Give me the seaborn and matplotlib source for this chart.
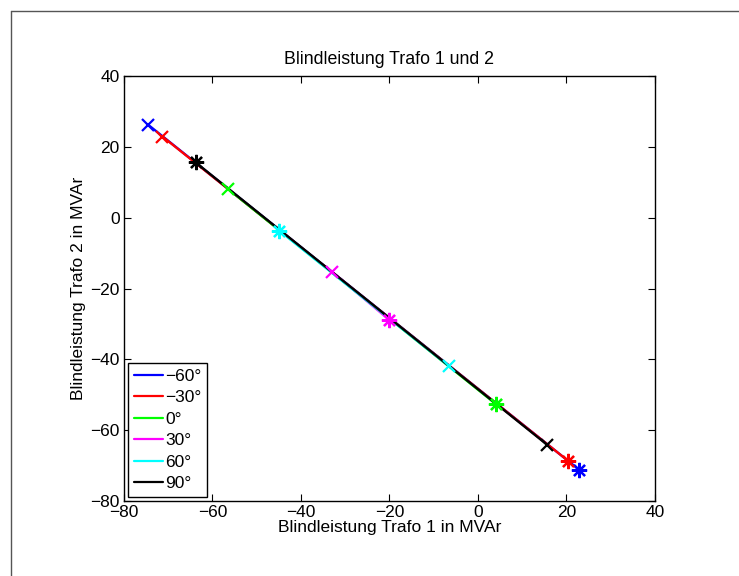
import matplotlib
matplotlib.use("Agg")
import matplotlib.pyplot as plt
from matplotlib.lines import Line2D
import seaborn as sns
import pandas as pd

# Phase angles and the two operating points of each sweep
labels = ["\u221260\u00b0", "\u221230\u00b0", "0\u00b0", "30\u00b0", "60\u00b0", "90\u00b0"]
colors = ["#0000ff", "#ff0000", "#00ff00", "#ff00ff", "#00ffff", "#000000"]

# point marked with 'x'
cross_x = [-74.5, -71.3, -56.4, -32.9, -6.6, 15.7]
cross_y = [26.2, 22.9, 8.0, -15.4, -41.9, -64.2]
# point marked with '*'
star_x = [22.9, 20.4, 4.1, -20.0, -44.9, -63.8]
star_y = [-71.2, -68.7, -52.7, -28.9, -3.7, 15.6]

x_ticks = [-80, -60, -40, -20, 0, 20, 40]
y_ticks = [-80, -60, -40, -20, 0, 20, 40]

rows = []
for i, lab in enumerate(labels):
    rows.append({"Winkel": lab, "order": 0, "Q1": cross_x[i], "Q2": cross_y[i]})
    rows.append({"Winkel": lab, "order": 1, "Q1": star_x[i], "Q2": star_y[i]})
df = pd.DataFrame(rows)

sns.set_theme(style="ticks")
plt.rcParams["font.family"] = ["Liberation Sans", "DejaVu Sans"]
plt.rcParams.update({
    "xtick.direction": "in", "ytick.direction": "in",
    "xtick.top": True, "ytick.right": True,
    "axes.linewidth": 1.0, "axes.edgecolor": "black",
    "xtick.color": "black", "ytick.color": "black",
    "text.color": "black", "axes.labelcolor": "black",
})

fig = plt.figure(figsize=(7.39, 5.76), dpi=100)
ax = fig.add_axes([0.1678, 0.1302, 0.7185, 0.7378])

palette = dict(zip(labels, colors))
sns.lineplot(data=df, x="Q1", y="Q2", hue="Winkel", hue_order=labels,
             palette=palette, units="Winkel", estimator=None, sort=False,
             linewidth=1.7, ax=ax, legend=False)

for i, lab in enumerate(labels):
    ax.plot([cross_x[i]], [cross_y[i]], linestyle="none", marker="x",
            markersize=9, markeredgewidth=1.6, color=colors[i], zorder=5)
    ax.plot([star_x[i]], [star_y[i]], linestyle="none", marker=(8, 2, 0),
            markersize=11, markeredgewidth=1.6, color=colors[i], zorder=5)

ax.set_xlim(-80, 40)
ax.set_ylim(-80, 40)
ax.set_xticks(x_ticks)
ax.set_yticks(y_ticks)
ax.set_xticklabels([str(v).replace("-", "\u2212") for v in x_ticks])
ax.set_yticklabels([str(v).replace("-", "\u2212") for v in y_ticks])
ax.tick_params(axis="both", which="major", labelsize=12.5, length=5, width=0.8, pad=3)

ax.set_xlabel("Blindleistung Trafo 1 in MVAr", fontsize=12.5, labelpad=0)
ax.set_ylabel("Blindleistung Trafo 2 in MVAr", fontsize=12.5, labelpad=3)
ax.set_title("Blindleistung Trafo 1 und 2", fontsize=12.8, pad=9)

handles = [Line2D([0], [0], color=c, linewidth=1.6) for c in colors]
leg = ax.legend(handles, labels, loc="lower left", fontsize=12.5,
                frameon=True, fancybox=False, framealpha=1, edgecolor="black",
                borderaxespad=0.25, handlelength=1.65, handletextpad=0.15,
                labelspacing=0.36, borderpad=0.32)
leg.get_frame().set_linewidth(1.0)

# outer frame of the figure window
fig.add_artist(Line2D([11 / 739, 11 / 739], [0, 1 - 11 / 576], color="#555555",
                      linewidth=1.0, transform=fig.transFigure))
fig.add_artist(Line2D([11 / 739, 1], [1 - 11 / 576, 1 - 11 / 576], color="#555555",
                      linewidth=1.0, transform=fig.transFigure))

fig.savefig("out.png", dpi=100, facecolor="white")
